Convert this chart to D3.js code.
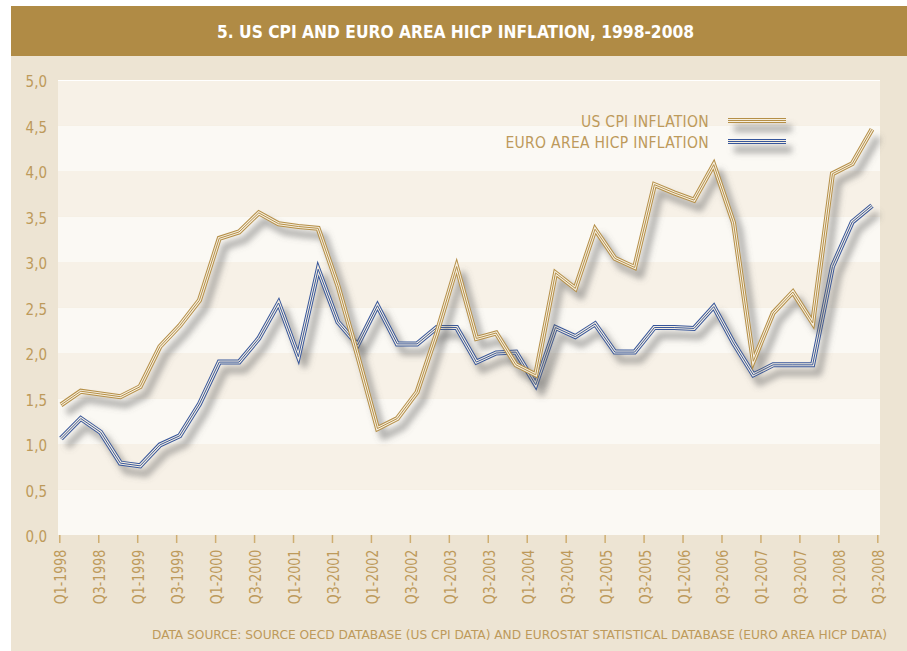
<!DOCTYPE html>
<html>
<head>
<meta charset="utf-8">
<script src="https://cdn.jsdelivr.net/npm/d3@7"></script>
<style>
  body { margin: 0; background: #fff; }
  svg text { font-family: "Liberation Sans Narrow", "DejaVu Sans Condensed", "Roboto", sans-serif; }
</style>
</head>
<body>
<svg id="chart" width="907" height="651"></svg>
<script>
// quarterly inflation, % year on year
var quarters = [
	'Q1-1998', 'Q2-1998', 'Q3-1998', 'Q4-1998', 'Q1-1999', 'Q2-1999', 'Q3-1999', 'Q4-1999',
	'Q1-2000', 'Q2-2000', 'Q3-2000', 'Q4-2000', 'Q1-2001', 'Q2-2001', 'Q3-2001', 'Q4-2001',
	'Q1-2002', 'Q2-2002', 'Q3-2002', 'Q4-2002', 'Q1-2003', 'Q2-2003', 'Q3-2003', 'Q4-2003',
	'Q1-2004', 'Q2-2004', 'Q3-2004', 'Q4-2004', 'Q1-2005', 'Q2-2005', 'Q3-2005', 'Q4-2005',
	'Q1-2006', 'Q2-2006', 'Q3-2006', 'Q4-2006', 'Q1-2007', 'Q2-2007', 'Q3-2007', 'Q4-2007',
	'Q1-2008', 'Q2-2008'
];
var usCpi = [
	1.43, 1.58, 1.55, 1.52, 1.63, 2.07, 2.30, 2.58, 3.26, 3.33, 3.54, 3.42, 3.39, 3.37,
	2.74, 1.97, 1.17, 1.28, 1.57, 2.22, 2.95, 2.16, 2.22, 1.87, 1.76, 2.88, 2.71, 3.36,
	3.04, 2.94, 3.85, 3.76, 3.68, 4.07, 3.43, 1.91, 2.44, 2.67, 2.33, 3.97, 4.08, 4.46
];
var euroHicp = [
	1.06, 1.28, 1.13, 0.79, 0.76, 0.99, 1.09, 1.44, 1.90, 1.90, 2.16, 2.55, 1.96, 2.92,
	2.34, 2.09, 2.52, 2.10, 2.10, 2.28, 2.28, 1.90, 2.00, 2.01, 1.65, 2.28, 2.18, 2.32,
	2.01, 2.01, 2.28, 2.28, 2.27, 2.51, 2.11, 1.76, 1.87, 1.87, 1.87, 2.95, 3.44, 3.62
];
var tickLabels = [
	'Q1-1998', 'Q3-1998', 'Q1-1999', 'Q3-1999', 'Q1-2000', 'Q3-2000', 'Q1-2001', 'Q3-2001',
	'Q1-2002', 'Q3-2002', 'Q1-2003', 'Q3-2003', 'Q1-2004', 'Q3-2004', 'Q1-2005', 'Q3-2005',
	'Q1-2006', 'Q3-2006', 'Q1-2007', 'Q3-2007', 'Q1-2008', 'Q3-2008'
];
var yTicks = [0, 0.5, 1, 1.5, 2, 2.5, 3, 3.5, 4, 4.5, 5];
var seriesNames = ['US CPI INFLATION', 'EURO AREA HICP INFLATION'];

var gold = '#b58f47',
    blue = '#37569b',
    textGold = '#bd9a5b';

var svg = d3.select('#chart');

var x = d3.scalePoint().domain(quarters).range([61, 872]),
    xAxisScale = d3.scalePoint().domain(tickLabels).range([59.3, 877.3]),
    y = d3.scaleLinear().domain([0, 5]).range([535, 80]);

svg.append('defs').append('filter')
    .attr('id', 'blur')
    .attr('filterUnits', 'userSpaceOnUse')
    .attr('x', 0).attr('y', 0)
    .attr('width', 907).attr('height', 651)
  .append('feGaussianBlur')
    .attr('stdDeviation', 3);

// backgrounds
svg.append('rect')
    .attr('x', 11).attr('y', 56)
    .attr('width', 896).attr('height', 595)
    .attr('fill', '#ede4d3');

svg.append('rect')
    .attr('x', 11).attr('y', 6)
    .attr('width', 896).attr('height', 50)
    .attr('fill', '#b08b45');

svg.append('text')
    .attr('x', 455.5)
    .attr('y', 38)
    .attr('text-anchor', 'middle')
    .attr('fill', '#fff')
    .attr('font-size', 17)
    .attr('font-weight', 'bold')
    .attr('textLength', 477)
    .attr('lengthAdjust', 'spacingAndGlyphs')
    .text('5. US CPI AND EURO AREA HICP INFLATION, 1998-2008');

// stripes
svg.append('g')
  .selectAll('rect')
  .data(yTicks.slice(0, -1))
  .enter().append('rect')
    .attr('x', 58)
    .attr('width', 822)
    .attr('y', d => y(d + 0.5))
    .attr('height', d => y(d) - y(d + 0.5))
    .attr('fill', (d, i) => i % 2 ? '#f7f1e7' : '#fbf9f4');

svg.append('line')
    .attr('x1', 58).attr('x2', 880)
    .attr('y1', 80.5).attr('y2', 80.5)
    .attr('stroke', '#fff');

// y axis
var yAxis = svg.append('g')
    .attr('transform', 'translate(58,0)')
    .call(d3.axisLeft(y).tickValues(yTicks).tickSize(0).tickPadding(11)
      .tickFormat(d => d.toFixed(1).replace('.', ',')));
yAxis.select('.domain').remove();
yAxis.selectAll('text')
    .attr('fill', textGold)
    .attr('font-size', 15)
    .attr('dy', '0.45em');

// x axis
var xAxis = svg.append('g')
    .attr('transform', 'translate(0,535)')
    .call(d3.axisBottom(xAxisScale).tickSize(8));
xAxis.select('.domain').remove();
xAxis.selectAll('.tick line')
    .attr('stroke', '#cfae72')
    .attr('stroke-width', 1.5);
xAxis.selectAll('text')
    .attr('fill', textGold)
    .attr('font-size', 15.5)
    .attr('transform', 'rotate(-90) scale(0.9,1)')
    .attr('text-anchor', 'end')
    .attr('x', -16.5)
    .attr('y', 6.5)
    .attr('dy', 0);

// lines
var line = d3.line()
    .x((d, i) => x(quarters[i]))
    .y(d => y(d));

function tripleLine(g, d, color) {
	g.append('path')
	    .attr('d', d)
	    .attr('transform', 'translate(6,8)')
	    .attr('fill', 'none')
	    .attr('stroke', '#666')
	    .attr('stroke-width', 7)
	    .attr('stroke-opacity', 0.5)
	    .attr('stroke-linejoin', 'round')
	    .attr('filter', 'url(#blur)');
	[[5, color], [3, '#f6efe0'], [1, color]].forEach(s => {
		g.append('path')
		    .attr('d', d)
		    .attr('fill', 'none')
		    .attr('stroke', s[1])
		    .attr('stroke-width', s[0])
		    .attr('stroke-linejoin', 'miter')
		    .attr('stroke-miterlimit', 10);
	});
}

tripleLine(svg.append('g'), line(euroHicp), blue);
tripleLine(svg.append('g'), line(usCpi), gold);

// legend
var legend = svg.append('g');
seriesNames.forEach((name, i) => {
	var ly = 120.5 + i * 21;
	legend.append('text')
	    .attr('x', 709)
	    .attr('y', ly + 6)
	    .attr('text-anchor', 'end')
	    .attr('fill', textGold)
	    .attr('font-size', 15.5)
	    .attr('letter-spacing', 0.3)
	    .text(name);
	tripleLine(legend, 'M728,' + ly + 'H786', i ? blue : gold);
});

// source
svg.append('text')
    .attr('x', 887)
    .attr('y', 639)
    .attr('text-anchor', 'end')
    .attr('fill', textGold)
    .attr('font-size', 13)
    .attr('textLength', 735)
    .attr('lengthAdjust', 'spacingAndGlyphs')
    .text('DATA SOURCE: SOURCE OECD DATABASE (US CPI DATA) AND EUROSTAT STATISTICAL DATABASE (EURO AREA HICP DATA)');
</script>
</body>
</html>
